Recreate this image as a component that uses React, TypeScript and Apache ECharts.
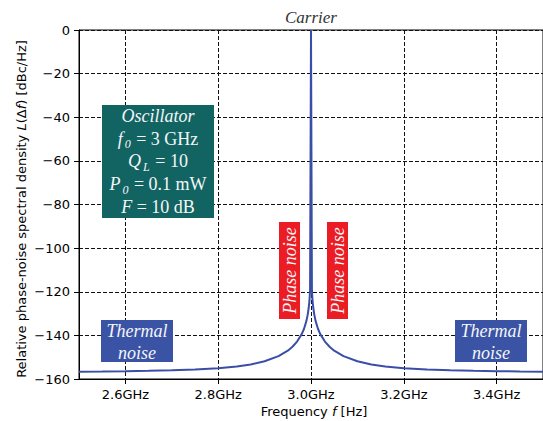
import React, { useEffect, useRef } from "react";
import * as echarts from "echarts";

// Frequency samples (GHz) and relative phase-noise PSD (dBc/Hz)
const freqGHz = [
  2.5, 2.55, 2.6, 2.65, 2.7, 2.75, 2.8, 2.84, 2.87, 2.9, 2.93, 2.95, 2.96, 2.97, 2.98, 2.985, 2.99, 2.993, 2.995, 2.996, 2.997, 2.998,
  3.0,
  3.002, 3.003, 3.004, 3.005, 3.007, 3.01, 3.015, 3.02, 3.03, 3.04, 3.05, 3.07, 3.1, 3.13, 3.16, 3.2, 3.25, 3.3, 3.35, 3.4, 3.45, 3.5,
];
const psdDbc = [
  -156.63, -156.54, -156.43, -156.27, -156.03, -155.66, -155.06, -154.26, -153.32, -151.88, -149.52, -147.0, -145.22, -142.85, -139.42, -136.96, -133.46, -130.37, -127.45, -125.52, -123.02, -119.5,
  0,
  -119.5, -123.02, -125.52, -127.45, -130.37, -133.46, -136.96, -139.42, -142.85, -145.22, -147.0, -149.52, -151.88, -153.32, -154.26, -155.06, -155.66, -156.03, -156.27, -156.43, -156.54, -156.63,
];
const xTicks = [2.6, 2.8, 3.0, 3.2, 3.4];
const xRange = [2.5, 3.5];
const yRange = [-160, 0];
const yStep = 20;

const oscillatorLines = [
  "{i|Oscillator}",
  "{i|f}{s|0}{n| = 3 GHz}",
  "{i|Q}{s|L}{n| = 10}",
  "{i|P}{s|0}{n| = 0.1 mW}",
  "{i|F}{n| = 10 dB}",
];

export default function App() {
  const ref = useRef<HTMLDivElement>(null);
  useEffect(() => {
    const chart = echarts.init(ref.current!, null, { renderer: "svg" });
    const serif = "'Liberation Serif', 'DejaVu Serif', serif";
    const sans = "'DejaVu Sans', sans-serif";
    const white = "#f4f6f8";
    const serifRich = (size: number) => ({
      i: { fontFamily: serif, fontSize: size, fontStyle: "italic", fill: white },
      n: { fontFamily: serif, fontSize: size, fill: white },
      s: { fontFamily: serif, fontSize: 12, fontStyle: "italic", fill: white, padding: [11, 1, 0, 2] },
    });
    const box = (x: number, y: number, w: number, h: number, color: string) => ({
      type: "rect",
      z: 100,
      shape: { x, y, width: w, height: h },
      style: { fill: color },
    });
    const txt = (x: number, y: number, text: string, rich: any, rotation = 0, fill = white) => ({
      type: "text",
      z: 101,
      x,
      y,
      rotation,
      style: { text, rich, align: "center", verticalAlign: "middle", fill },
    });
    const sansRich = {
      n: { fontFamily: sans, fontSize: 13, fill: "#000" },
      i: { fontFamily: sans, fontSize: 13, fontStyle: "italic", fill: "#000" },
    };

    const graphics: any[] = [
      txt(311, 17, "{i|Carrier}", { i: { fontFamily: serif, fontSize: 17, fontStyle: "italic", fill: "#333" } }),
      box(102, 105, 112, 113, "#126462"),
      ...oscillatorLines.map((l, k) => txt(158, 116 + k * 22.7, l, serifRich(18))),
      box(101, 320, 72, 42, "#3a53a4"),
      txt(137, 331, "{i|Thermal}", serifRich(18)),
      txt(137, 353, "{i|noise}", serifRich(18)),
      box(455, 320, 72, 42, "#3a53a4"),
      txt(491, 331, "{i|Thermal}", serifRich(18)),
      txt(491, 353, "{i|noise}", serifRich(18)),
      box(279, 222, 21, 97, "#ec1c24"),
      txt(289.5, 270.5, "{i|Phase noise}", serifRich(18), Math.PI / 2),
      box(327, 222, 21, 97, "#ec1c24"),
      txt(337.5, 270.5, "{i|Phase noise}", serifRich(18), Math.PI / 2),
      txt(
        21,
        209,
        "{n|Relative phase-noise spectral density }{i|L}{n|(Δ}{i|f}{n|) [dBc/Hz]}",
        sansRich,
        Math.PI / 2,
        "#000"
      ),
      txt(314, 411, "{n|Frequency }{i|f}{n| [Hz]}", sansRich, 0, "#000"),
    ];

    const gridLine = { show: true, lineStyle: { color: "#111", type: [4, 2], width: 1 } };

    chart.setOption({
      animation: false,
      backgroundColor: "#fff",
      grid: {
        left: 79,
        top: 30,
        width: 467,
        height: 349,
        show: true,
        borderColor: "#000",
        borderWidth: 1,
        backgroundColor: "transparent",
      },
      xAxis: {
        type: "value",
        min: xRange[0],
        max: xRange[1],
        axisLine: { show: true, onZero: false, lineStyle: { color: "#000", width: 1 } },
        axisTick: { show: true, customValues: xTicks, length: 5, lineStyle: { color: "#000" } },
        axisLabel: {
          customValues: xTicks,
          formatter: (v: number) => v.toFixed(1) + "GHz",
          fontFamily: sans,
          fontSize: 13,
          color: "#000",
          margin: 9,
        },
        splitLine: gridLine,
      },
      yAxis: {
        type: "value",
        min: yRange[0],
        max: yRange[1],
        interval: yStep,
        axisLine: { show: true, onZero: false, lineStyle: { color: "#000", width: 1 } },
        axisTick: { show: true, length: 5, lineStyle: { color: "#000" } },
        axisLabel: {
          formatter: (v: number) => (v < 0 ? "\u2212" + Math.abs(v) : String(v)),
          fontFamily: sans,
          fontSize: 13,
          color: "#000",
          margin: 9,
        },
        splitLine: gridLine,
      },
      series: [
        {
          type: "line",
          data: freqGHz.map((f, i) => [f, psdDbc[i]]),
          symbol: "none",
          showSymbol: false,
          lineStyle: { color: "#3a4ea8", width: 2 },
          z: 5,
        },
      ],
      graphic: graphics,
    });
    return () => chart.dispose();
  }, []);
  return (
    <div
      ref={ref}
      style={{ position: "fixed", left: 0, top: 0, width: 543, height: 421, background: "#fff" }}
    />
  );
}
